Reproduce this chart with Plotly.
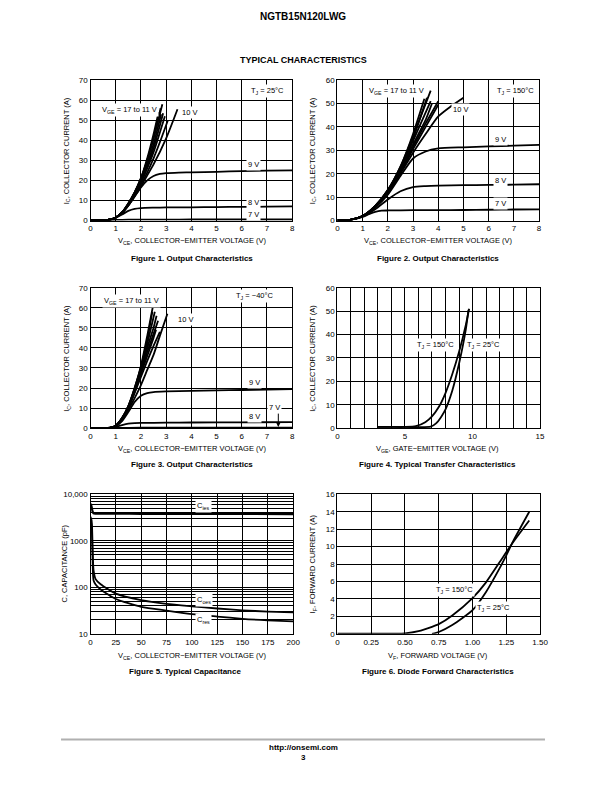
import plotly.graph_objects as go

W, H = 612, 792
FONT = "Liberation Sans, Arial, sans-serif"

# ---------------- DATA ----------------
# Figure 1: Output characteristics, TJ = 25 C  (VCE [V], IC [A])
f1_vce_17 = [0, 0.5, 0.8, 1.0, 1.25, 1.5, 1.75, 2.0, 2.25, 2.5, 2.85]
f1_ic_17 = [0, 0.1, 0.6, 1.5, 4, 8.5, 14, 21, 30, 41, 58]
f1_vce_16 = [0, 0.5, 0.8, 1.0, 1.25, 1.5, 1.75, 2.0, 2.25, 2.5, 2.78]
f1_ic_16 = [0, 0.1, 0.6, 1.5, 4, 8.5, 14, 21, 30, 41, 56]
f1_vce_15 = [0, 0.5, 0.8, 1.0, 1.25, 1.5, 1.75, 2.0, 2.25, 2.5, 2.7]
f1_ic_15 = [0, 0.1, 0.6, 1.5, 4, 8.5, 14, 21, 31, 43, 54]
f1_vce_14 = [0, 0.5, 0.8, 1.0, 1.25, 1.5, 1.75, 2.0, 2.25, 2.5, 2.8]
f1_ic_14 = [0, 0.1, 0.6, 1.5, 4, 8, 13.5, 20, 28, 38, 53]
f1_vce_13 = [0, 0.5, 0.8, 1.0, 1.25, 1.5, 1.75, 2.0, 2.25, 2.5, 2.88]
f1_ic_13 = [0, 0.1, 0.6, 1.5, 4, 8, 13, 19.5, 27, 36, 53.5]
f1_vce_12 = [0, 0.5, 0.8, 1.0, 1.25, 1.5, 1.75, 2.0, 2.25, 2.5, 2.95]
f1_ic_12 = [0, 0.1, 0.6, 1.5, 4, 8, 13, 19, 26, 34, 52]
f1_vce_11 = [0, 0.5, 0.8, 1.0, 1.25, 1.5, 1.75, 2.0, 2.25, 2.5, 2.75, 3.07]
f1_ic_11 = [0, 0.1, 0.6, 1.5, 3.8, 7.5, 12.5, 18, 24, 31, 39, 50]
f1_vce_10 = [0, 0.5, 0.8, 1.0, 1.25, 1.5, 1.75, 2.0, 2.25, 2.5, 3.0, 3.45]
f1_ic_10 = [0, 0.1, 0.6, 1.5, 3.8, 7.5, 12, 17, 22.5, 28, 41, 55.5]
f1_vce_9 = [0, 0.5, 0.8, 1.0, 1.25, 1.5, 1.75, 2.0, 2.25, 2.5, 2.75, 3.0, 3.5, 4, 5, 6, 7, 8]
f1_ic_9 = [0, 0.1, 0.6, 1.5, 3.8, 7.5, 12, 16.5, 20, 22.2, 23.2, 23.6, 23.9, 24, 24.3, 24.6, 24.9, 25]
f1_vce_8 = [0, 0.5, 0.8, 1.0, 1.25, 1.5, 1.75, 2.0, 2.5, 3, 4, 5, 6, 7, 8]
f1_ic_8 = [0, 0.1, 0.5, 1.3, 3, 4.8, 5.8, 6.2, 6.4, 6.5, 6.6, 6.7, 6.8, 6.9, 7]
f1_vce_7 = [0, 0.5, 0.8, 1.0, 1.5, 2, 3, 4, 6, 8]
f1_ic_7 = [0, 0.05, 0.2, 0.3, 0.4, 0.45, 0.45, 0.5, 0.5, 0.5]

# Figure 2: Output characteristics, TJ = 150 C
f2_vce_17 = [0, 0.5, 1.0, 1.5, 2.0, 2.5, 3.0, 3.7]
f2_ic_17 = [0, 0.3, 1.9, 6.2, 13, 23, 36, 55.5]
f2_vce_16 = [0, 0.5, 1.0, 1.5, 2.0, 2.5, 3.0, 3.45]
f2_ic_16 = [0, 0.3, 1.9, 6.2, 13, 23, 37, 52]
f2_vce_15 = [0, 0.5, 1.0, 1.5, 2.0, 2.5, 3.0, 3.55]
f2_ic_15 = [0, 0.3, 1.9, 6.2, 13, 22.5, 35, 52.5]
f2_vce_14 = [0, 0.5, 1.0, 1.5, 2.0, 2.5, 3.0, 3.7]
f2_ic_14 = [0, 0.3, 1.9, 6, 12.5, 22, 34, 51]
f2_vce_13 = [0, 0.5, 1.0, 1.5, 2.0, 2.5, 3.0, 3.5, 3.75]
f2_ic_13 = [0, 0.3, 1.9, 6, 12.5, 21.5, 32.5, 43, 50]
f2_vce_12 = [0, 0.5, 1.0, 1.5, 2.0, 2.5, 3.0, 3.5, 4.0]
f2_ic_12 = [0, 0.3, 1.9, 6, 12.3, 21, 31.5, 41.5, 51]
f2_vce_11 = [0, 0.5, 1.0, 1.5, 2.0, 2.5, 3.0, 3.5, 4.0]
f2_ic_11 = [0, 0.3, 1.9, 6, 12, 20.5, 30.5, 40, 49.5]
f2_vce_10 = [0, 0.5, 1.0, 1.5, 2.0, 2.5, 3.0, 3.5, 4.0, 4.5, 5.0]
f2_ic_10 = [0, 0.3, 1.8, 5.8, 12, 20, 29, 37, 44.5, 48.8, 52.5]
f2_vce_9 = [0, 0.5, 1.0, 1.5, 2.0, 2.5, 3.0, 3.5, 4.0, 5, 6, 7, 8]
f2_ic_9 = [0, 0.3, 1.8, 5.5, 11, 19, 26.5, 29.5, 30.8, 31.3, 31.7, 32, 32.3]
f2_vce_8 = [0, 0.5, 1.0, 1.5, 2.0, 2.5, 3.0, 3.5, 4.0, 5, 6, 7, 8]
f2_ic_8 = [0, 0.3, 1.7, 4.8, 9, 12.5, 14.3, 14.7, 14.9, 15.1, 15.2, 15.3, 15.5]
f2_vce_7 = [0, 0.5, 1.0, 1.25, 1.5, 1.75, 2.0, 3, 4, 5, 6, 7, 8]
f2_ic_7 = [0, 0.3, 1.5, 2.7, 3.7, 4.2, 4.3, 4.4, 4.4, 4.5, 4.6, 4.7, 4.8]

# Figure 3: Output characteristics, TJ = -40 C
f3_vce_17 = [0, 0.5, 0.8, 1.0, 1.25, 1.5, 1.75, 2.0, 2.25, 2.48]
f3_ic_17 = [0, 0, 0.3, 1.2, 5, 11, 20, 31, 46, 61]
f3_vce_16 = [0, 0.5, 0.8, 1.0, 1.25, 1.5, 1.75, 2.0, 2.25, 2.45]
f3_ic_16 = [0, 0, 0.3, 1.2, 5, 11, 20, 30.5, 44, 58]
f3_vce_15 = [0, 0.5, 0.8, 1.0, 1.25, 1.5, 1.75, 2.0, 2.25, 2.55]
f3_ic_15 = [0, 0, 0.3, 1.2, 5, 11, 19.5, 30, 42, 58]
f3_vce_14 = [0, 0.5, 0.8, 1.0, 1.25, 1.5, 1.75, 2.0, 2.25, 2.5, 2.62]
f3_ic_14 = [0, 0, 0.3, 1.2, 4.8, 10.5, 19, 29, 40, 50, 56]
f3_vce_13 = [0, 0.5, 0.8, 1.0, 1.25, 1.5, 1.75, 2.0, 2.25, 2.5, 2.68]
f3_ic_13 = [0, 0, 0.3, 1.2, 4.8, 10.5, 18.5, 28, 38, 47, 53.5]
f3_vce_12 = [0, 0.5, 0.8, 1.0, 1.25, 1.5, 1.75, 2.0, 2.25, 2.5, 2.6]
f3_ic_12 = [0, 0, 0.3, 1.2, 4.6, 10, 18, 27, 36, 45, 49]
f3_vce_11 = [0, 0.5, 0.8, 1.0, 1.25, 1.5, 1.75, 2.0, 2.25, 2.5, 2.75]
f3_ic_11 = [0, 0, 0.3, 1.2, 4.5, 10, 17.5, 25.5, 33.5, 41, 48]
f3_vce_10 = [0, 0.5, 0.8, 1.0, 1.25, 1.5, 1.75, 2.0, 2.25, 2.5, 2.75, 3.05]
f3_ic_10 = [0, 0, 0.3, 1.1, 4, 9, 15, 21.5, 29, 36.5, 46, 57]
f3_vce_9 = [0, 0.5, 0.8, 1.0, 1.25, 1.5, 1.75, 2.0, 2.25, 2.5, 3, 4, 5, 6, 7, 8]
f3_ic_9 = [0, 0, 0.3, 1.0, 3.5, 8, 13, 16.2, 17.5, 18, 18.3, 18.6, 18.8, 19, 19.2, 19.4]
f3_vce_8 = [0, 0.5, 0.8, 1.0, 1.25, 1.5, 1.75, 2.0, 3, 4, 6, 8]
f3_ic_8 = [0, 0, 0.2, 0.6, 1.5, 2.2, 2.5, 2.6, 2.7, 2.8, 2.9, 3.0]
f3_vce_7 = [0, 1, 2, 4, 6, 8]
f3_ic_7 = [0, 0.1, 0.2, 0.2, 0.2, 0.2]

# Figure 4: Transfer characteristics (VGE [V], IC [A])
f4_vge_150 = [3, 4, 5, 5.8, 6.5, 7, 7.5, 8, 8.5, 9, 9.5, 9.75]
f4_ic_150 = [0.5, 0.5, 0.5, 0.8, 2.5, 5, 9, 15, 23, 32.5, 44, 51]
f4_vge_25 = [3, 5, 6.9, 7.3, 7.7, 8, 8.5, 9, 9.5, 9.7]
f4_ic_25 = [0.5, 0.5, 0.6, 2, 5, 8, 16, 27.5, 42, 50.5]

# Figure 5: Capacitance (VCE [V], C [pF])
f5_vce_ies = [0, 1, 2, 3, 5, 10, 25, 50, 100, 150, 200]
f5_c_ies = [6300, 5500, 4300, 3900, 3850, 3850, 3850, 3800, 3800, 3780, 3760]
f5_vce_oes = [0, 1, 1.5, 2, 2.5, 3, 5, 10, 25, 50, 75, 100, 125, 150, 175, 200]
f5_c_oes = [3300, 2800, 2000, 800, 350, 230, 150, 116, 73, 53, 44, 39, 35, 32, 30, 29]
f5_vce_res = [0, 1, 1.5, 2, 2.5, 3, 5, 10, 25, 50, 75, 100, 125, 150, 175, 200]
f5_c_res = [2800, 2200, 1200, 400, 180, 140, 115, 90, 56, 38, 31.5, 26.6, 23.5, 21, 19.5, 18.5]

# Figure 6: Diode forward characteristics (VF [V], IF [A])
f6_vf_150 = [0, 0.25, 0.5, 0.6, 0.7, 0.75, 0.85, 1.0, 1.1, 1.2, 1.3, 1.42]
f6_if_150 = [0, 0, 0.05, 0.3, 0.8, 1.1, 2.1, 4.1, 5.9, 8.2, 10.5, 13]
f6_vf_25 = [0.7, 0.75, 0.85, 1.0, 1.1, 1.2, 1.25, 1.3, 1.42]
f6_if_25 = [0, 0.2, 1.0, 2.7, 4.8, 7.5, 9, 10.6, 14]

# Tick labels
t1_x = [0, 1, 2, 3, 4, 5, 6, 7, 8]
t1_y = [0, 10, 20, 30, 40, 50, 60, 70]
t2_y = [0, 10, 20, 30, 40, 50, 60]
t4_x = [0, 5, 10, 15]
t5_x = [0, 25, 50, 75, 100, 125, 150, 175, 200]
t5_y = [10, 100, 1000, 10000]
t5_ytext = ["10", "100", "1000", "10,000"]
t6_x = [0, 0.25, 0.5, 0.75, 1.0, 1.25, 1.5]
t6_xtext = ["0", "0.25", "0.50", "0.75", "1.00", "1.25", "1.50"]
t6_y = [0, 2, 4, 6, 8, 10, 12, 14, 16]


# ---------------- FIGURE ----------------
def pxx(x):
    return x / W


def pyy(y):
    return 1 - y / H


fig = go.Figure()


def add(xs, ys, ax, width=1.8):
    fig.add_trace(go.Scatter(
        x=xs, y=ys, mode="lines", xaxis="x" + ax, yaxis="y" + ax,
        line=dict(color="black", width=width, shape="spline", smoothing=0.6),
        showlegend=False, hoverinfo="skip"))


for xs, ys in [(f1_vce_17, f1_ic_17), (f1_vce_16, f1_ic_16), (f1_vce_15, f1_ic_15),
               (f1_vce_14, f1_ic_14), (f1_vce_13, f1_ic_13), (f1_vce_12, f1_ic_12),
               (f1_vce_11, f1_ic_11), (f1_vce_10, f1_ic_10), (f1_vce_9, f1_ic_9),
               (f1_vce_8, f1_ic_8), (f1_vce_7, f1_ic_7)]:
    add(xs, ys, "")
for xs, ys in [(f2_vce_17, f2_ic_17), (f2_vce_16, f2_ic_16), (f2_vce_15, f2_ic_15),
               (f2_vce_14, f2_ic_14), (f2_vce_13, f2_ic_13), (f2_vce_12, f2_ic_12),
               (f2_vce_11, f2_ic_11), (f2_vce_10, f2_ic_10), (f2_vce_9, f2_ic_9),
               (f2_vce_8, f2_ic_8), (f2_vce_7, f2_ic_7)]:
    add(xs, ys, "2")
for xs, ys in [(f3_vce_17, f3_ic_17), (f3_vce_16, f3_ic_16), (f3_vce_15, f3_ic_15),
               (f3_vce_14, f3_ic_14), (f3_vce_13, f3_ic_13), (f3_vce_12, f3_ic_12),
               (f3_vce_11, f3_ic_11), (f3_vce_10, f3_ic_10), (f3_vce_9, f3_ic_9),
               (f3_vce_8, f3_ic_8), (f3_vce_7, f3_ic_7)]:
    add(xs, ys, "3")
add(f4_vge_150, f4_ic_150, "4")
add(f4_vge_25, f4_ic_25, "4")
add(f5_vce_ies, f5_c_ies, "5", 2.2)
add(f5_vce_oes, f5_c_oes, "5")
add(f5_vce_res, f5_c_res, "5")
add(f6_vf_150, f6_if_150, "6")
add(f6_vf_25, f6_if_25, "6")

tickfont = dict(family=FONT, size=8, color="black")


def axis(x0, x1, **kw):
    d = dict(domain=[pxx(x0), pxx(x1)], showline=True, linecolor="black", linewidth=1.4,
             mirror=True, showgrid=True, gridcolor="black", gridwidth=1, zeroline=False,
             ticks="", tickfont=tickfont, fixedrange=True)
    d.update(kw)
    return d


def yaxis(y0, y1, **kw):
    d = dict(domain=[pyy(y1), pyy(y0)], showline=True, linecolor="black", linewidth=1.4,
             mirror=True, showgrid=True, gridcolor="black", gridwidth=1, zeroline=False,
             ticks="", tickfont=tickfont, fixedrange=True)
    d.update(kw)
    return d


layout = dict(
    width=W, height=H, margin=dict(l=0, r=0, t=0, b=0),
    paper_bgcolor="white", plot_bgcolor="white", showlegend=False,
    font=dict(family=FONT, color="black"),
)
# Plot 1
layout["xaxis"] = axis(90, 295, anchor="y", range=[0, 8], tickvals=t1_x)
layout["yaxis"] = yaxis(77, 219, anchor="x", range=[0, 70], tickvals=t1_y)
# Plot 2
layout["xaxis2"] = axis(341, 546, anchor="y2", range=[0, 8], tickvals=t1_x)
layout["yaxis2"] = yaxis(77, 219, anchor="x2", range=[0, 60], tickvals=t2_y)
# Plot 3
layout["xaxis3"] = axis(90, 295, anchor="y3", range=[0, 8], tickvals=t1_x)
layout["yaxis3"] = yaxis(287, 429, anchor="x3", range=[0, 70], tickvals=t1_y)
# Plot 4
layout["xaxis4"] = axis(341, 547, anchor="y4", range=[0, 15], tickvals=t4_x,
                        minor=dict(dtick=1, showgrid=True, gridcolor="black", gridwidth=1, ticks=""))
layout["yaxis4"] = yaxis(287, 429, anchor="x4", range=[0, 60], tickvals=t2_y)
# Plot 5
minor_log = [m * d for d in (10, 100, 1000) for m in range(2, 10)]
layout["xaxis5"] = axis(90, 296, anchor="y5", range=[0, 200], tickvals=t5_x)
layout["yaxis5"] = yaxis(496, 637, anchor="x5", type="log", range=[1, 4], tickvals=t5_y,
                         ticktext=t5_ytext,
                         minor=dict(tickvals=minor_log, showgrid=True, gridcolor="black",
                                    gridwidth=1, ticks=""))
# Plot 6
layout["xaxis6"] = axis(341, 547, anchor="y6", range=[0, 1.5], tickvals=t6_x, ticktext=t6_xtext)
layout["yaxis6"] = yaxis(496, 637, anchor="x6", range=[0, 16], tickvals=t6_y)

fig.update_layout(**layout)

ann = []


def text(x, y, s, size=8, bold=False, bg=None, angle=0, xanchor="center"):
    if bold:
        s = "<b>" + s + "</b>"
    d = dict(x=pxx(x), y=pyy(y), xref="paper", yref="paper", text=s, showarrow=False,
             font=dict(family=FONT, size=size, color="black"), xanchor=xanchor,
             yanchor="middle", textangle=angle)
    if bg:
        d.update(bgcolor=bg, borderpad=1)
    ann.append(d)


# header / footer
text(306, 13, "NGTB15N120LWG", size=10, bold=True)
text(306, 57, "TYPICAL CHARACTERISTICS", size=9, bold=True)
text(306, 752, "http://onsemi.com", size=8, bold=True)
text(306, 762, "3", size=8, bold=True)

xt_ce = "V<sub>CE</sub>, COLLECTOR\u2212EMITTER VOLTAGE (V)"
yt_ic = "I<sub>C</sub>, COLLECTOR CURRENT (A)"
# axis titles
text(193, 240, xt_ce, size=7.5)
text(443, 240, xt_ce, size=7.5)
text(193, 450, xt_ce, size=7.5)
text(443, 450, "V<sub>GE</sub>, GATE\u2212EMITTER VOLTAGE (V)", size=7.5)
text(193, 659, xt_ce, size=7.5)
text(443, 659, "V<sub>F</sub>, FORWARD VOLTAGE (V)", size=7.5)
text(66, 148, yt_ic, size=7.5, angle=-90)
text(316, 148, yt_ic, size=7.5, angle=-90)
text(66, 358, yt_ic, size=7.5, angle=-90)
text(316, 358, yt_ic, size=7.5, angle=-90)
text(64, 566, "C, CAPACITANCE (pF)", size=7.5, angle=-90)
text(316, 566, "I<sub>F</sub>, FORWARD CURRENT (A)", size=7.5, angle=-90)
# captions
text(193, 257, "Figure 1. Output Characteristics", size=8, bold=True)
text(443, 257, "Figure 2. Output Characteristics", size=8, bold=True)
text(193, 466, "Figure 3. Output Characteristics", size=8, bold=True)
text(443, 466, "Figure 4. Typical Transfer Characteristics", size=8, bold=True)
text(186, 675, "Figure 5. Typical Capacitance", size=8, bold=True)
text(443, 675, "Figure 6. Diode Forward Characteristics", size=8, bold=True)

W_ = "white"
# plot 1 labels
text(270, 88, "T<sub>J</sub> = 25\u00b0C", size=7.5, bg=W_)
text(130, 107, "V<sub>GE</sub> = 17 to 11 V", size=7.5, bg=W_)
text(191, 110, "10 V", size=7.5, bg=W_)
text(256, 162, "9 V", size=7.5, bg=W_)
text(256, 201, "8 V", size=7.5, bg=W_)
text(256, 213, "7 V", size=7.5, bg=W_)
# plot 2 labels
text(401, 88, "V<sub>GE</sub> = 17 to 11 V", size=7.5, bg=W_)
text(522, 88, "T<sub>J</sub> = 150\u00b0C", size=7.5, bg=W_)
text(466, 107, "10 V", size=7.5, bg=W_)
text(507, 137, "9 V", size=7.5, bg=W_)
text(507, 179, "8 V", size=7.5, bg=W_)
text(507, 202, "7 V", size=7.5, bg=W_)
# plot 3 labels
text(132, 300, "V<sub>GE</sub> = 17 to 11 V", size=7.5, bg=W_)
text(257, 295, "T<sub>J</sub> = \u221240\u00b0C", size=7.5, bg=W_)
text(187, 319, "10 V", size=7.5, bg=W_)
text(257, 383, "9 V", size=7.5, bg=W_)
text(257, 417, "8 V", size=7.5, bg=W_)
text(277, 408, "7 V", size=7.5, bg=W_)
ann.append(dict(x=7.45, y=0.5, xref="x3", yref="y3", ax=0, ay=-15, text="",
                showarrow=True, arrowhead=2, arrowsize=1, arrowwidth=1, arrowcolor="black"))
# plot 4 labels
text(441, 345, "T<sub>J</sub> = 150\u00b0C", size=7.5, bg=W_)
text(490, 345, "T<sub>J</sub> = 25\u00b0C", size=7.5, bg=W_)
# plot 5 labels
text(205, 508, "C<sub>ies</sub>", size=7.5, bg=W_)
text(205, 603, "C<sub>oes</sub>", size=7.5, bg=W_)
text(205, 623, "C<sub>res</sub>", size=7.5, bg=W_)
# plot 6 labels
text(460, 593, "T<sub>J</sub> = 150\u00b0C", size=7.5, bg=W_)
text(500, 611, "T<sub>J</sub> = 25\u00b0C", size=7.5, bg=W_)

fig.update_layout(annotations=ann,
                  shapes=[dict(type="line", xref="paper", yref="paper",
                               x0=pxx(60), x1=pxx(552), y0=pyy(744), y1=pyy(744),
                               line=dict(color="#b0b0b0", width=2))])

fig.write_html("out.html", config={"displayModeBar": False},
               post_script=["document.body.style.margin='0';document.body.style.overflow='hidden';"])
